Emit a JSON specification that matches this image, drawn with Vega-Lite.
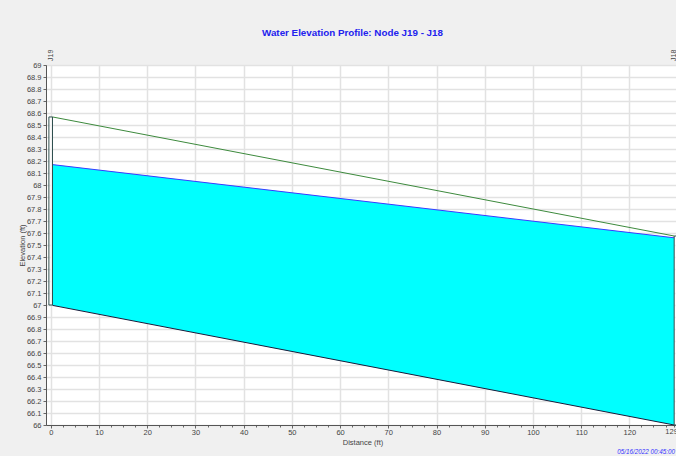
{
  "$schema": "https://vega.github.io/schema/vega-lite/v6.json",
  "autosize": {"type": "none"},
  "width": 633,
  "height": 360,
  "padding": {"left": 46, "top": 65, "right": 0, "bottom": 31},
  "background": "#f0f0f0",
  "title": {
    "text": "Water Elevation Profile: Node J19 - J18",
    "font": "Liberation Sans",
    "fontSize": 9.8,
    "fontWeight": "bold",
    "color": "#2222ee",
    "anchor": "middle",
    "dx": -10,
    "offset": 12
  },
  "config": {
    "view": {"fill": "white", "stroke": "#9a9a9a", "strokeWidth": 1},
    "axis": {
      "labelFont": "Liberation Sans",
      "titleFont": "Liberation Sans",
      "labelFontSize": 7.5,
      "titleFontSize": 7.5,
      "titleFontWeight": "normal",
      "labelColor": "#444444",
      "titleColor": "#444444",
      "domainColor": "#555555",
      "tickColor": "#666666",
      "gridColor": "#e2e2e2",
      "gridWidth": 1.5
    }
  },
  "datasets": {
    "pipe": [
      {"distance": 0.35, "elev": 66.997, "water": 68.17},
      {"distance": 129.3, "elev": 66.0, "water": 67.56}
    ],
    "waterSurface": [
      {"distance": 0.35, "elev": 68.17},
      {"distance": 129.3, "elev": 67.56}
    ],
    "crown": [
      {"distance": 0.35, "elev": 68.567},
      {"distance": 129.3, "elev": 67.575}
    ],
    "nodes": [
      {"node": "J19", "distance": -0.4, "x2": 0.35, "elev": 67.0, "top": 68.567},
      {"node": "J18", "distance": 129.3, "x2": 130.1, "elev": 66.0, "top": 67.575}
    ],
    "labels": [
      {"node": "J19", "distance": 0.1, "elev": 69},
      {"node": "J18", "distance": 129.3, "elev": 69}
    ],
    "stamp": [
      {"text": "05/16/2022 00:45:00", "distance": 117.5, "elev": 66}
    ]
  },
  "encoding": {
    "x": {
      "field": "distance", "type": "quantitative",
      "scale": {"domain": [-1, 130.3], "nice": false, "zero": false},
      "axis": {
        "title": "Distance (ft)",
        "values": [0,2.5,5,7.5,10,12.5,15,17.5,20,22.5,25,27.5,30,32.5,35,37.5,40,42.5,45,47.5,50,52.5,55,57.5,60,62.5,65,67.5,70,72.5,75,77.5,80,82.5,85,87.5,90,92.5,95,97.5,100,102.5,105,107.5,110,112.5,115,117.5,120,122.5,125,127.5,129.3],
        "labelExpr": "(datum.value % 10 === 0) ? datum.label : (datum.value > 129 ? '129.3' : '')",
        "tickSize": {"condition": {"test": "datum.value % 10 === 0", "value": 3}, "value": 2},
        "gridOpacity": {"condition": {"test": "datum.value % 10 === 0", "value": 1}, "value": 0},
        "labelPadding": 0,
        "titlePadding": 3,
        "labelFlush": false,
        "labelOverlap": false
      }
    },
    "y": {
      "field": "elev", "type": "quantitative",
      "scale": {"domain": [66, 69], "nice": false, "zero": false},
      "axis": {
        "title": "Elevation (ft)",
        "values": [66,66.1,66.2,66.3,66.4,66.5,66.6,66.7,66.8,66.9,67,67.1,67.2,67.3,67.4,67.5,67.6,67.7,67.8,67.9,68,68.1,68.2,68.3,68.4,68.5,68.6,68.7,68.8,68.9,69],
        "format": ".1~f",
        "tickSize": 3,
        "labelPadding": 2,
        "titlePadding": 0,
        "labelOverlap": false,
        "labelFlush": false
      }
    }
  },
  "layer": [
    {
      "data": {"name": "pipe"},
      "mark": {"type": "area", "color": "#00ffff", "opacity": 1},
      "encoding": {
        "y2": {"field": "water"}
      }
    },
    {
      "data": {"name": "pipe"},
      "mark": {"type": "line", "color": "#1a1a3a", "strokeWidth": 1},
      "encoding": {}
    },
    {
      "data": {"name": "waterSurface"},
      "mark": {"type": "line", "color": "#3a3aff", "strokeWidth": 1},
      "encoding": {}
    },
    {
      "data": {"name": "crown"},
      "mark": {"type": "line", "color": "#3d8a3d", "strokeWidth": 1},
      "encoding": {}
    },
    {
      "data": {"name": "nodes"},
      "mark": {"type": "rect", "fill": "white", "fillOpacity": 0.6, "stroke": "#2f4f4f", "strokeWidth": 1},
      "encoding": {
        "x2": {"field": "x2"},
        "y2": {"field": "top"}
      }
    },
    {
      "data": {"name": "labels"},
      "mark": {"type": "text", "angle": 270, "align": "left", "baseline": "middle", "dx": 4, "font": "Liberation Sans", "fontSize": 7, "color": "#444444"},
      "encoding": {
        "text": {"field": "node"}
      }
    },
    {
      "data": {"name": "stamp"},
      "mark": {"type": "text", "align": "left", "baseline": "middle", "dy": 26.5, "font": "Liberation Sans", "fontSize": 6.3, "fontStyle": "italic", "color": "#3333ff"},
      "encoding": {
        "text": {"field": "text"}
      }
    }
  ]
}
